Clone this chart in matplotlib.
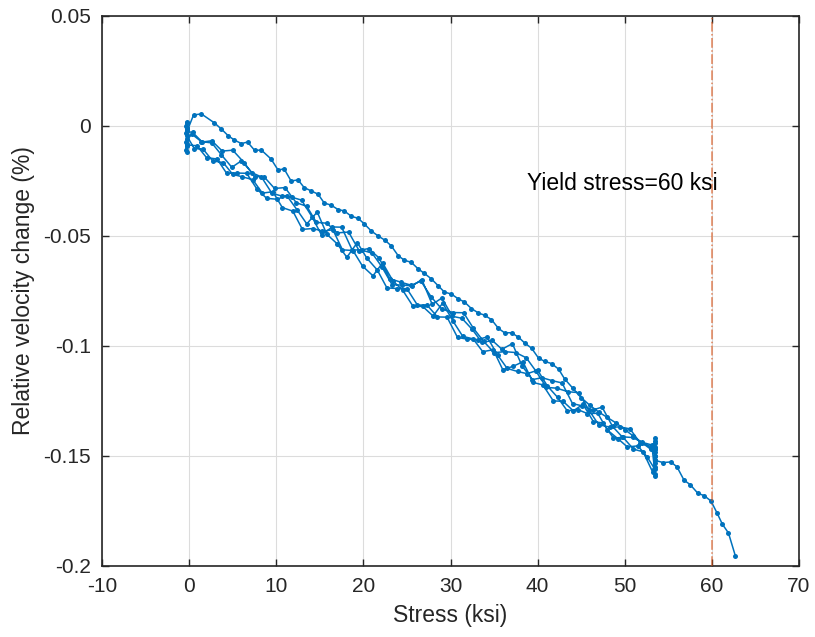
import numpy as np
import matplotlib
matplotlib.use("Agg")
import matplotlib.pyplot as plt

plt.rcParams['font.family'] = ['Liberation Sans', 'DejaVu Sans']

# ---- data (stress in ksi, relative velocity change in %) ----
# initial hold at zero stress
hold0_x = [-0.3, -0.2, -0.4, -0.3, -0.2]
hold0_y = [-0.0010, 0.0015, -0.0030, -0.0060, -0.0020]

# first loading (upper path)
loadA_x = [0.5, 1.4, 2.9, 3.7, 4.5, 5.2, 6.0, 6.7, 7.5, 8.3, 9.4, 10.2, 10.9, 11.7,
           12.5, 13.2, 14.0, 14.8, 15.5, 16.3, 17.1, 17.8, 18.6, 19.4, 20.1, 20.9,
           21.7, 22.5, 23.2, 24.0, 24.7, 25.5, 26.3, 27.0, 27.8, 28.6, 29.3, 30.1,
           30.9, 31.6, 32.4, 33.2, 33.9, 34.7, 35.5, 36.2, 37.0, 37.8, 38.5, 39.3,
           40.1, 40.8, 41.6, 42.4, 43.1, 44.0, 45.0, 46.0, 47.0, 48.0, 49.0, 50.0,
           51.0, 52.0, 53.0, 53.5]
loadA_y = [0.0050, 0.0055, 0.0014, -0.0014, -0.0045, -0.0064, -0.0080, -0.0073,
           -0.0110, -0.0110, -0.0150, -0.0200, -0.0195, -0.0250, -0.0245, -0.0280,
           -0.0295, -0.0310, -0.0350, -0.0360, -0.0380, -0.0386, -0.0410, -0.0420,
           -0.0445, -0.0477, -0.0500, -0.0520, -0.0545, -0.0590, -0.0610, -0.0620,
           -0.0650, -0.0670, -0.0695, -0.0727, -0.0755, -0.0764, -0.0786, -0.0800,
           -0.0830, -0.0850, -0.0860, -0.0880, -0.0920, -0.0940, -0.0940, -0.0960,
           -0.0986, -0.1010, -0.1055, -0.1070, -0.1080, -0.1105, -0.1150, -0.1190,
           -0.1235, -0.1270, -0.1300, -0.1325, -0.1350, -0.1380, -0.1410, -0.1440,
           -0.1470, -0.1460]

holdA_x = [53.5, 53.5, 53.5]
holdA_y = [-0.1440, -0.1470, -0.1500]

# first unloading
unloadB_x = [53.0, 51.8, 50.6, 49.5, 48.3, 47.0, 45.9, 44.7, 43.5, 42.2, 41.0, 39.8,
             38.7, 37.5, 36.3, 35.0, 33.8, 32.6, 31.5, 30.3, 29.0, 27.8, 26.6, 25.5,
             24.3, 23.0, 21.8, 20.6, 19.5, 18.3, 17.0, 15.8, 14.6, 13.5, 12.3, 11.0,
             9.8, 8.6, 7.5, 6.3, 5.0, 3.8, 2.6, 1.5, 0.4, -0.3]
unloadB_y = [-0.1457, -0.1442, -0.1377, -0.1368, -0.1369, -0.1358, -0.1292, -0.1212,
             -0.1208, -0.1192, -0.1188, -0.1114, -0.1054, -0.1030, -0.1026, -0.1030,
             -0.0979, -0.0918, -0.0849, -0.0848, -0.0832, -0.0778, -0.0705, -0.0724,
             -0.0710, -0.0694, -0.0600, -0.0557, -0.0566, -0.0482, -0.0486, -0.0442,
             -0.0438, -0.0365, -0.0349, -0.0280, -0.0284, -0.0231, -0.0230, -0.0166,
             -0.0110, -0.0114, -0.0067, -0.0073, -0.0029, -0.0025]

holdB_x = [-0.3, -0.4, -0.3, -0.2]
holdB_y = [-0.0020, 0.0000, 0.0020, -0.0010]

# second loading
loadC_x = [-0.2, 0.9, 2.0, 3.2, 4.3, 5.5, 6.6, 7.8, 8.9, 10.1, 11.2, 12.4, 13.5, 14.7,
           15.8, 17.0, 18.1, 19.3, 20.4, 21.6, 22.7, 23.9, 25.0, 26.2, 27.3, 28.5,
           29.6, 30.8, 31.9, 33.1, 34.2, 35.4, 36.5, 37.7, 38.8, 40.0, 41.1, 42.3,
           43.4, 44.6, 45.7, 46.9, 48.0, 49.2, 50.3, 51.5, 52.6, 53.4]
loadC_y = [-0.0086, -0.0090, -0.0144, -0.0150, -0.0215, -0.0214, -0.0215, -0.0288,
           -0.0329, -0.0333, -0.0316, -0.0382, -0.0445, -0.0391, -0.0492, -0.0536,
           -0.0597, -0.0530, -0.0601, -0.0655, -0.0736, -0.0739, -0.0740, -0.0814,
           -0.0814, -0.0868, -0.0869, -0.0961, -0.0969, -0.0971, -0.0959, -0.1041,
           -0.1102, -0.1116, -0.1126, -0.1110, -0.1181, -0.1234, -0.1295, -0.1289,
           -0.1307, -0.1306, -0.1382, -0.1421, -0.1459, -0.1454, -0.1506, -0.1557]

holdC_x = [53.5, 53.5, 53.5, 53.5]
holdC_y = [-0.1520, -0.1550, -0.1580, -0.1590]

# second unloading
unloadD_x = [53.1, 52.0, 50.9, 49.7, 48.6, 47.4, 46.3, 45.1, 44.0, 42.8, 41.7, 40.5,
             39.4, 38.2, 37.1, 35.9, 34.8, 33.6, 32.5, 31.3, 30.2, 29.0, 27.9, 26.7,
             25.6, 24.4, 23.3, 22.1, 21.0, 19.8, 18.7, 17.5, 16.4, 15.2, 14.1, 12.9,
             11.8, 10.6, 9.5, 8.3, 7.2, 6.0, 4.9, 3.7, 2.6, 1.4, 0.3, -0.4]
unloadD_y = [-0.1450, -0.1438, -0.1416, -0.1413, -0.1366, -0.1278, -0.1291, -0.1272,
             -0.1262, -0.1168, -0.1158, -0.1144, -0.1153, -0.1090, -0.0989, -0.1015,
             -0.0975, -0.0984, -0.0925, -0.0874, -0.0865, -0.0782, -0.0811, -0.0698,
             -0.0727, -0.0723, -0.0722, -0.0639, -0.0578, -0.0564, -0.0563, -0.0460,
             -0.0459, -0.0496, -0.0413, -0.0337, -0.0324, -0.0318, -0.0306, -0.0232,
             -0.0212, -0.0158, -0.0188, -0.0131, -0.0077, -0.0071, -0.0037, -0.0072]

holdD_x = [-0.3, -0.4, -0.3, -0.2]
holdD_y = [-0.0080, -0.0110, -0.0117, -0.0090]

# third loading
loadE_x = [-0.3, 0.6, 1.6, 2.7, 3.9, 5.0, 6.1, 7.3, 8.4, 9.6, 10.7, 11.9, 13.0, 14.2,
           15.3, 16.5, 17.6, 18.8, 19.9, 21.1, 22.2, 23.4, 24.5, 25.7, 26.8, 28.0,
           29.1, 30.3, 31.4, 32.6, 33.7, 34.9, 36.0, 37.2, 38.3, 39.5, 40.6, 41.8,
           42.9, 44.1, 45.2, 46.4, 47.5, 48.7, 49.8, 51.0, 52.1, 53.2]
loadE_y = [-0.0043, -0.0103, -0.0105, -0.0159, -0.0166, -0.0220, -0.0231, -0.0244,
           -0.0305, -0.0299, -0.0371, -0.0387, -0.0470, -0.0466, -0.0478, -0.0472,
           -0.0563, -0.0566, -0.0637, -0.0681, -0.0622, -0.0705, -0.0746, -0.0820,
           -0.0820, -0.0864, -0.0805, -0.0888, -0.0956, -0.0968, -0.1026, -0.1017,
           -0.1108, -0.1092, -0.1072, -0.1166, -0.1177, -0.1250, -0.1251, -0.1295,
           -0.1265, -0.1344, -0.1350, -0.1419, -0.1415, -0.1469, -0.1481, -0.1573]

holdE_x = [53.5, 53.5, 53.5, 53.5, 53.5, 53.5, 53.5, 53.5]
holdE_y = [-0.1560, -0.1530, -0.1500, -0.1470, -0.1430, -0.1420, -0.1480, -0.1520]

# final loading beyond the previous maximum
loadF_x = [54.4, 55.3, 56.0, 56.8, 57.5, 58.4, 59.1, 59.9, 60.6, 61.2, 61.9, 62.7]
loadF_y = [-0.1530, -0.1527, -0.1550, -0.1610, -0.1630, -0.1670, -0.1680, -0.1705,
           -0.1760, -0.1810, -0.1850, -0.1955]

yield_stress = 60
x_ticks = [-10, 0, 10, 20, 30, 40, 50, 60, 70]
x_ticklabels = ['-10', '0', '10', '20', '30', '40', '50', '60', '70']
y_ticks = [0.05, 0, -0.05, -0.1, -0.15, -0.2]
y_ticklabels = ['0.05', '0', '-0.05', '-0.1', '-0.15', '-0.2']

# ---- plot ----
fig = plt.figure(figsize=(8.15, 6.37), dpi=100)
ax = fig.add_axes([0.1252, 0.1115, 0.8552, 0.8634])

xs = np.concatenate([hold0_x, loadA_x, holdA_x, unloadB_x, holdB_x, loadC_x, holdC_x,
                     unloadD_x, holdD_x, loadE_x, holdE_x, loadF_x])
ys = np.concatenate([hold0_y, loadA_y, holdA_y, unloadB_y, holdB_y, loadC_y, holdC_y,
                     unloadD_y, holdD_y, loadE_y, holdE_y, loadF_y])

ax.plot(xs, ys, color='#0072BD', lw=1.1, marker='o', ms=3.6, mew=0, zorder=3)
ax.axvline(yield_stress, color='#D95319', alpha=0.7, lw=1.1, ls='-.', zorder=4)
ax.text(38.8, -0.026, 'Yield stress=60 ksi', fontsize=16.5, color='black',
        va='center', ha='left')

ax.set_xlim(-10, 70)
ax.set_ylim(-0.2, 0.05)
ax.set_xticks(x_ticks)
ax.set_xticklabels(x_ticklabels)
ax.set_yticks(y_ticks)
ax.set_yticklabels(y_ticklabels)
ax.grid(True, color='#dcdcdc', lw=0.8)
ax.set_axisbelow(True)
ax.tick_params(direction='in', length=5, width=1.0, top=True, right=True,
               labelsize=15, colors='#262626', pad=8)
for s in ax.spines.values():
    s.set_color('#262626')
    s.set_linewidth(1.2)
ax.set_xlabel('Stress (ksi)', fontsize=16.5, color='#262626', labelpad=6)
ax.set_ylabel('Relative velocity change (%)', fontsize=16.5, color='#262626', labelpad=6)

fig.savefig('out.png', dpi=100)
